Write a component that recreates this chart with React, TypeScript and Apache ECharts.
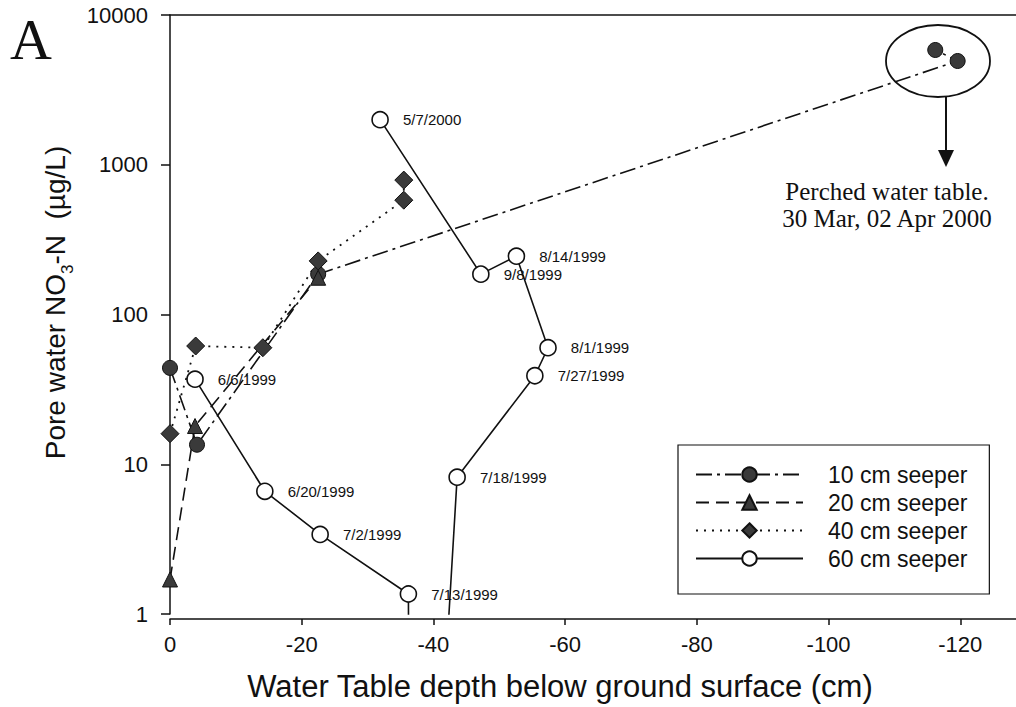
import React, { useEffect, useRef } from "react";
import * as echarts from "echarts";

// Water table depth (cm, negative = below surface) and pore water NO3-N (µg/L)
const depth10 = [0, -4.1, -22.5, -119.6, -116.2];
const nitrate10 = [44, 13.5, 186, 4930, 5840];

const depth20 = [0, -3.8, -22.5];
const nitrate20 = [1.7, 18, 176];

const depth40 = [0, -3.9, -14.1, -22.5, -35.5, -35.5];
const nitrate40 = [16, 61.6, 60, 228, 580, 790];

// 60 cm seeper; the two undated samples fell below the plotted range
const depth60 = [-3.8, -14.4, -22.8, -36.2, -36.3, -41.0, -43.6, -55.4, -57.4, -52.6, -47.2, -31.9];
const nitrate60 = [37, 6.6, 3.4, 1.36, 0.1, 0.1, 8.2, 39, 60, 245, 186, 2000];
const dates60 = [
  "6/6/1999", "6/20/1999", "7/2/1999", "7/13/1999", "", "",
  "7/18/1999", "7/27/1999", "8/1/1999", "8/14/1999", "9/8/1999", "5/7/2000",
];

const seriesNames = ["10 cm seeper", "20 cm seeper", "40 cm seeper", "60 cm seeper"];
const yTicks = [1, 10, 100, 1000, 10000];

const SANS = "'Liberation Sans', Arial, sans-serif";
const SERIF = "'Liberation Serif', 'Times New Roman', serif";
const INK = "#111";
const FILL = "#3a3a3a";

const pairs = (xs: number[], ys: number[]) => xs.map((x, i) => [x, ys[i]]);

export default function App() {
  const ref = useRef<HTMLDivElement>(null);

  useEffect(() => {
    if (!ref.current) return;
    const chart = echarts.init(ref.current, null, { renderer: "svg" });

    const xAxisBase = {
      type: "value",
      min: -140,
      max: 0,
      interval: 20,
      inverse: true,
      splitLine: { show: false },
    };

    chart.setOption({
      animation: false,
      backgroundColor: "#fff",
      grid: { left: 170, right: -76, top: 15, bottom: 93, containLabel: false, outerBoundsMode: "none" },
      xAxis: [
        {
          ...xAxisBase,
          position: "bottom",
          offset: 5,
          axisLine: { show: true, lineStyle: { color: INK, width: 1.5 } },
          axisTick: { show: true, inside: false, length: 6, lineStyle: { color: INK, width: 1.5 } },
          axisLabel: {
            show: true,
            showMinLabel: false,
            margin: 14,
            fontSize: 22,
            color: INK,
            fontFamily: SANS,
          },
          name: "Water Table depth below ground surface (cm)",
          nameLocation: "middle",
          nameGap: 52,
          nameTextStyle: { fontSize: 31, color: INK, fontFamily: SANS, padding: [0, 142, 0, 0] },
        },
        {
          ...xAxisBase,
          position: "top",
          axisLine: { show: true, lineStyle: { color: INK, width: 1.5 } },
          axisTick: { show: false },
          axisLabel: { show: false },
        },
      ],
      yAxis: {
        type: "log",
        logBase: 10,
        min: yTicks[0],
        max: yTicks[yTicks.length - 1],
        splitLine: { show: false },
        minorTick: { show: false },
        axisLine: { show: true, lineStyle: { color: INK, width: 1.5 } },
        axisTick: { show: true, inside: false, length: 9, lineStyle: { color: INK, width: 1.5 } },
        axisLabel: {
          margin: 22,
          fontSize: 22,
          color: INK,
          fontFamily: SANS,
          formatter: (v: number) => String(Math.round(v)),
        },
        name: "{m|Pore water NO}{s|3}{m|-N  (µg/L)}",
        nameLocation: "middle",
        nameGap: 80,
        nameRotate: 90,
        nameTextStyle: {
          color: INK,
          fontFamily: SANS,
          padding: [0, 0, 0, 24],
          rich: {
            m: { fontSize: 28, fontFamily: SANS, color: INK, lineHeight: 34, verticalAlign: "middle" },
            s: { fontSize: 17, fontFamily: SANS, color: INK, lineHeight: 40, verticalAlign: "bottom" },
          },
        },
      },
      legend: {
        orient: "vertical",
        left: 678,
        top: 445,
        padding: [18, 22, 24, 17],
        itemGap: 5,
        itemWidth: 107,
        itemHeight: 18,
        borderColor: INK,
        borderWidth: 1.2,
        borderRadius: 0,
        backgroundColor: "#fff",
        data: seriesNames,
        formatter: (name: string) => `{t|${name}}`,
        textStyle: {
          rich: {
            t: { fontSize: 23, fontFamily: SANS, color: INK, padding: [0, 0, 0, 20] },
          },
        },
      },
      series: [
        {
          type: "line",
          name: seriesNames[0],
          data: pairs(depth10, nitrate10),
          symbol: "circle",
          symbolSize: 15,
          itemStyle: { color: FILL, borderColor: INK, borderWidth: 1 },
          lineStyle: { color: INK, width: 1.6, type: [16, 5, 3, 5] },
          clip: true,
          z: 3,
        },
        {
          type: "line",
          name: seriesNames[1],
          data: pairs(depth20, nitrate20),
          symbol: "triangle",
          symbolSize: 15,
          itemStyle: { color: FILL, borderColor: INK, borderWidth: 1 },
          lineStyle: { color: INK, width: 1.6, type: [13, 7] },
          clip: true,
          z: 3,
        },
        {
          type: "line",
          name: seriesNames[2],
          data: pairs(depth40, nitrate40),
          symbol: "diamond",
          symbolSize: 18,
          itemStyle: { color: FILL, borderColor: INK, borderWidth: 1 },
          lineStyle: { color: INK, width: 1.8, type: [2, 6] },
          clip: true,
          z: 3,
        },
        {
          type: "line",
          name: seriesNames[3],
          data: pairs(depth60, nitrate60),
          symbol: "circle",
          symbolSize: 16,
          itemStyle: { color: "#fff", borderColor: INK, borderWidth: 1.6 },
          lineStyle: { color: INK, width: 1.6, type: "solid" },
          label: {
            show: true,
            position: "right",
            distance: 14,
            fontSize: 15,
            color: INK,
            fontFamily: SANS,
            formatter: (p: any) => dates60[p.dataIndex],
          },
          clip: true,
          z: 4,
        },
      ],
      graphic: [
        {
          type: "text",
          left: 10,
          top: 10,
          style: { text: "A", fontSize: 58, fontFamily: SERIF, fill: INK },
        },
        {
          type: "ellipse",
          shape: { cx: 938, cy: 61, rx: 52, ry: 36 },
          style: { fill: "none", stroke: INK, lineWidth: 1.8 },
          z: 10,
        },
        {
          type: "line",
          shape: { x1: 946, y1: 97, x2: 946, y2: 153 },
          style: { stroke: INK, lineWidth: 2 },
          z: 10,
        },
        {
          type: "polygon",
          shape: { points: [[938, 150], [954, 150], [946, 167]] },
          style: { fill: INK },
          z: 10,
        },
        {
          type: "text",
          x: 887,
          y: 191,
          style: {
            text: "Perched water table.",
            fontSize: 25,
            fontFamily: SERIF,
            fill: INK,
            align: "center",
            verticalAlign: "middle",
          },
          z: 10,
        },
        {
          type: "text",
          x: 887,
          y: 218,
          style: {
            text: "30 Mar, 02 Apr 2000",
            fontSize: 25,
            fontFamily: SERIF,
            fill: INK,
            align: "center",
            verticalAlign: "middle",
          },
          z: 10,
        },
      ],
    });

    return () => chart.dispose();
  }, []);

  return (
    <div
      ref={ref}
      style={{ position: "fixed", left: 0, top: 0, width: 1016, height: 707, background: "#fff" }}
    />
  );
}
